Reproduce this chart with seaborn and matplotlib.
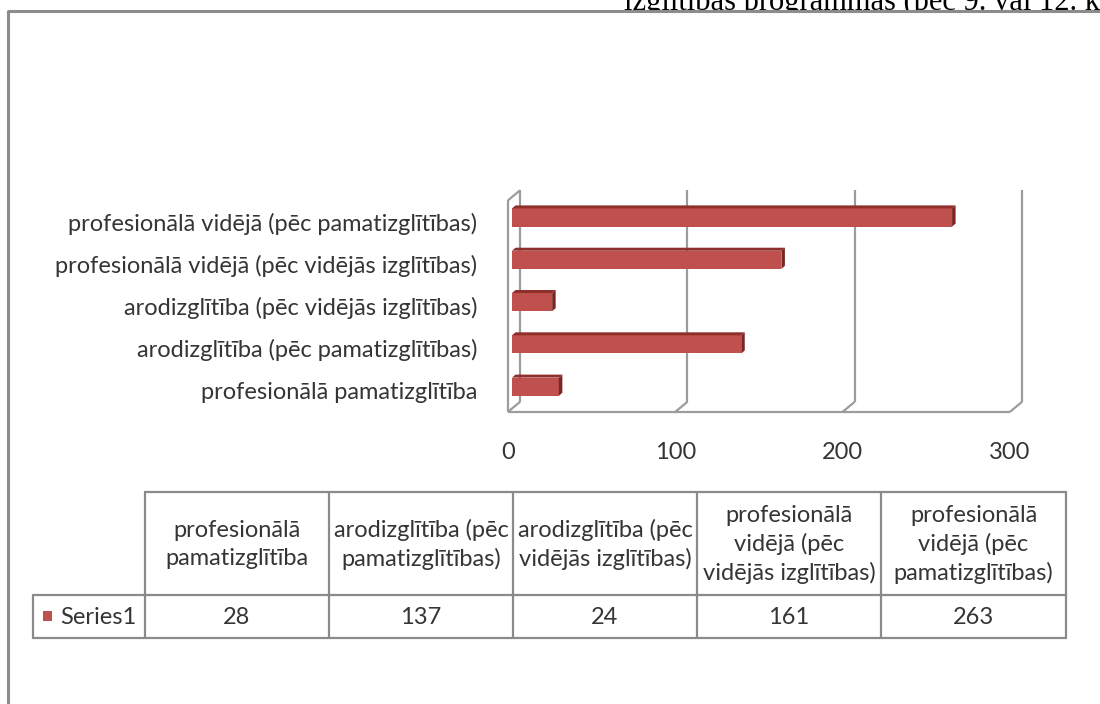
import numpy as np
import pandas as pd
import matplotlib
matplotlib.use("Agg")
import matplotlib.pyplot as plt
import seaborn as sns
from matplotlib.patches import Polygon, Rectangle
from matplotlib.lines import Line2D

# ---------------- data ----------------
categories = [
    "profesionālā pamatizglītība",
    "arodizglītība (pēc pamatizglītības)",
    "arodizglītība (pēc vidējās izglītības)",
    "profesionālā vidējā (pēc vidējās izglītības)",
    "profesionālā vidējā (pēc pamatizglītības)",
]
values = [28, 137, 24, 161, 263]
header_labels = [
    "profesionālā\npamatizglītība",
    "arodizglītība (pēc\npamatizglītības)",
    "arodizglītība (pēc\nvidējās izglītības)",
    "profesionālā\nvidējā (pēc\nvidējās izglītības)",
    "profesionālā\nvidējā (pēc\npamatizglītības)",
]
series_name = "Series1"
x_ticks = [0, 100, 200, 300]
title_text = "izglītības programmās (pēc 9. vai 12. klases)"

# ---------------- style ----------------
sns.set_style("white")
plt.rcParams["font.family"] = ["Lato", "DejaVu Sans"]
TXT = "#353535"
RED = "#C0504D"
TOP = "#8f2f2c"
SIDE = "#7a2624"
GRID = "#9c9c9c"
FS = 17

W, H = 1100, 704
fig = plt.figure(figsize=(W / 100, H / 100), dpi=100)
fig.patch.set_facecolor("white")


def fx(px):
    return px / W


def fy(py):
    return 1 - py / H


# axes placed in pixel space so data maps linearly
AX_L, AX_R, AX_T, AX_B = 490, 1040, 180, 420
PXX = 1.6733          # px per value unit
PXY = 42.3            # px per category
X0PX = 508            # px of value 0 (front plane)
Y0PX = 221.5          # px of first category (front plane)
ax = fig.add_axes([fx(AX_L), fy(AX_B), (AX_R - AX_L) / W, (AX_B - AX_T) / H])
ax.set_zorder(2)

df = pd.DataFrame({"cat": categories, "val": values})
order = categories[::-1]
sns.barplot(data=df, x="val", y="cat", order=order, orient="h", color=RED,
            saturation=1, width=0.43, ax=ax, edgecolor="none", zorder=3)

ax.set_xlim((AX_L - X0PX) / PXX, (AX_R - X0PX) / PXX)
ax.set_ylim((AX_B - Y0PX) / PXY, (AX_T - Y0PX) / PXY)

n = len(categories)
lo, hi = -0.5, n - 0.5
DX, DY = 12 / PXX, 10 / PXY          # wall depth
BSX, BSY = 4 / PXX, 4 / PXY          # bar offset into depth
BDX, BDY = 3.5 / PXX, 3 / PXY        # bar own depth

# walls / grid
lk = dict(color=GRID, lw=1.6, zorder=1, solid_capstyle="butt")
for v in x_ticks:
    ax.plot([v + DX, v + DX], [lo - DY, hi - DY], **lk)
    ax.plot([v, v + DX], [hi, hi - DY], **lk)
ax.plot([x_ticks[0], x_ticks[-1]], [hi, hi], **lk)
ax.plot([0, 0], [lo, hi], **lk)
ax.plot([0, DX], [lo, lo - DY], **lk)

# 3D bars
for p in list(ax.patches):
    x0, y0 = p.get_x() + BSX, p.get_y() - BSY
    w, h = p.get_width(), p.get_height()
    p.set_x(x0)
    p.set_y(y0)
    top = Polygon([(x0, y0), (x0 + w, y0), (x0 + w + BDX, y0 - BDY), (x0 + BDX, y0 - BDY)],
                  closed=True, facecolor=TOP, edgecolor="none", zorder=3)
    side = Polygon([(x0 + w, y0), (x0 + w, y0 + h), (x0 + w + BDX, y0 + h - BDY), (x0 + w + BDX, y0 - BDY)],
                   closed=True, facecolor=SIDE, edgecolor="none", zorder=3)
    ax.add_patch(top)
    ax.add_patch(side)

ax.set_xticks(x_ticks)
ax.set_xticklabels([str(t) for t in x_ticks])
ax.tick_params(axis="x", length=0, pad=16, labelsize=FS, labelcolor=TXT)
ax.tick_params(axis="y", length=0, pad=9, labelsize=FS, labelcolor=TXT)
ax.set_xlabel("")
ax.set_ylabel("")
for s in ax.spines.values():
    s.set_visible(False)
ax.set_facecolor("none")

# ---------------- data table ----------------
col_edges = [145, 329, 513, 697, 881, 1066]
row_top, row_mid, row_bot = 492, 595, 638
leg_left = 33
TL = "#8a8a8a"


def hline(x1, x2, y):
    fig.add_artist(Line2D([fx(x1), fx(x2)], [fy(y), fy(y)], color=TL, lw=1.6,
                          transform=fig.transFigure, zorder=3))


def vline(x, y1, y2):
    fig.add_artist(Line2D([fx(x), fx(x)], [fy(y1), fy(y2)], color=TL, lw=1.6,
                          transform=fig.transFigure, zorder=3))


hline(col_edges[0], col_edges[-1], row_top)
hline(leg_left, col_edges[-1], row_mid)
hline(leg_left, col_edges[-1], row_bot)
for xe in col_edges:
    vline(xe, row_top, row_bot)
vline(leg_left, row_mid, row_bot)

for i, (lab, val) in enumerate(zip(header_labels, values)):
    cx = (col_edges[i] + col_edges[i + 1]) / 2
    fig.text(fx(cx), fy((row_top + row_mid) / 2 + 1), lab, ha="center", va="center",
             fontsize=FS, color=TXT, linespacing=1.4, zorder=3)
    fig.text(fx(cx), fy((row_mid + row_bot) / 2 + 1), str(val), ha="center", va="center",
             fontsize=FS, color=TXT, zorder=3)

fig.add_artist(Rectangle((fx(43), fy(621)), 9 / W, 10 / H, facecolor=RED,
                         edgecolor="none", transform=fig.transFigure, zorder=3))
fig.text(fx(60), fy((row_mid + row_bot) / 2 + 1), series_name, ha="left", va="center",
         fontsize=FS, color=TXT, zorder=3)

# ---------------- title (partly hidden behind chart area) and frame ----------------
fig.text(fx(624), fy(10), title_text, ha="left", va="baseline",
         family="Liberation Serif", fontsize=22, color="black", zorder=0.2)
fig.add_artist(Rectangle((fx(8), 0), 1 - fx(8), fy(11), facecolor="white",
                         edgecolor="none", transform=fig.transFigure, zorder=0.4))
fig.add_artist(Line2D([fx(8), fx(8), fx(1100)], [fy(704), fy(11), fy(11)],
                      color="#8c8c8c", lw=2.2, transform=fig.transFigure, zorder=3))

fig.savefig("out.png", dpi=100)
